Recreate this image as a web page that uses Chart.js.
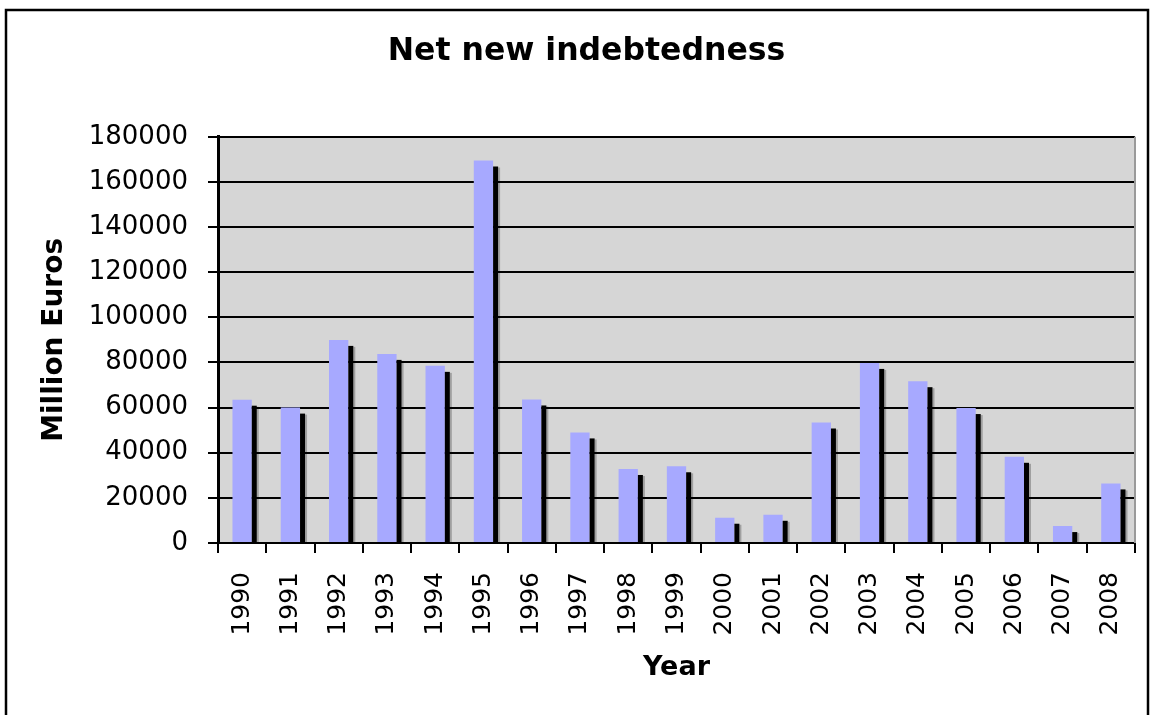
<!DOCTYPE html>
<html>
<head>
<meta charset="utf-8">
<title>Net new indebtedness</title>
<script src="https://cdn.jsdelivr.net/npm/chart.js@4"></script>
<style>
  html, body { margin: 0; padding: 0; background: #fff; }
  #wrap { position: relative; width: 1155px; height: 715px; }
</style>
</head>
<body>
<div id="wrap"><canvas id="chart" width="1155" height="715"></canvas></div>
<script>
const years = ['1990','1991','1992','1993','1994','1995','1996','1997','1998','1999',
               '2000','2001','2002','2003','2004','2005','2006','2007','2008'];
// net new borrowing, million euros
const netNewDebt = [63500, 60000, 90000, 83800, 78500, 169500, 63600, 49000, 32800, 34000,
                    11200, 12500, 53400, 79800, 71700, 59800, 38200, 7500, 26400];
const yTicks = { min: 0, max: 180000, step: 20000 };

const FONT = 'DejaVu Sans, Verdana, sans-serif';

// gray plot background, frame around the whole chart
const backdrop = {
  id: 'backdrop',
  beforeDraw(chart) {
    const { ctx, chartArea: a } = chart;
    ctx.save();
    ctx.fillStyle = '#fff';
    ctx.fillRect(0, 0, chart.width, chart.height);
    ctx.fillStyle = '#d6d6d6';
    ctx.fillRect(a.left, a.top, a.right - a.left, a.bottom - a.top);
    ctx.strokeStyle = '#000';
    ctx.lineWidth = 2.5;
    ctx.strokeRect(6, 10, 1142, 720);
    ctx.restore();
  },
  afterDraw(chart) {
    const { ctx, chartArea: a } = chart;
    ctx.save();
    ctx.strokeStyle = '#9a9a9a';
    ctx.lineWidth = 2;
    ctx.beginPath();
    ctx.moveTo(a.right, a.top);
    ctx.lineTo(a.right, a.bottom);
    ctx.stroke();
    ctx.restore();
  }
};

// dark drop shadow on the right side of every bar
const barShadow = {
  id: 'barShadow',
  afterDatasetsDraw(chart) {
    const { ctx } = chart;
    const meta = chart.getDatasetMeta(0);
    ctx.save();
    meta.data.forEach(bar => {
      const { x, y, base, width } = bar.getProps(['x', 'y', 'base', 'width'], true);
      const left = x + width / 2;
      const top = y + 6;
      if (base - top <= 0) return;
      ctx.fillStyle = 'rgba(0,0,0,0.25)';
      ctx.fillRect(left + 5, top + 1, 2, base - top - 1);
      ctx.fillStyle = '#000';
      ctx.fillRect(left, top, 5, base - top);
    });
    ctx.restore();
  }
};

new Chart(document.getElementById('chart'), {
  type: 'bar',
  data: {
    labels: years,
    datasets: [{
      data: netNewDebt,
      backgroundColor: '#a7a9ff',
      borderWidth: 0,
      categoryPercentage: 1.0,
      barPercentage: 0.4
    }]
  },
  options: {
    responsive: false,
    animation: false,
    layout: { padding: { left: 38, right: 20, top: 0, bottom: 0 } },
    plugins: {
      legend: { display: false },
      tooltip: { enabled: false },
      title: {
        display: true,
        text: 'Net new indebtedness',
        color: '#000',
        font: { family: FONT, size: 31.5, weight: 'bold' },
        padding: { top: 33, bottom: 66 }
      }
    },
    scales: {
      x: {
        grid: {
          offset: true,
          drawOnChartArea: false,
          drawTicks: true,
          tickLength: 10,
          color: '#000',
          lineWidth: 2
        },
        border: { color: '#000', width: 2 },
        ticks: {
          color: '#000',
          font: { family: FONT, size: 25 },
          minRotation: 90,
          maxRotation: 90,
          padding: 19,
          autoSkip: false
        },
        title: {
          display: true,
          text: 'Year',
          color: '#000',
          font: { family: FONT, size: 27, weight: 'bold' },
          padding: { top: 0, bottom: 31 }
        },
        afterFit(scale) {
          scale.height = 172;
          scale.paddingLeft = 0;
          scale.paddingRight = 0;
        }
      },
      y: {
        min: yTicks.min,
        max: yTicks.max,
        grid: {
          color: '#000',
          lineWidth: 2,
          drawTicks: true,
          tickLength: 10
        },
        border: { color: '#000', width: 3 },
        ticks: {
          stepSize: yTicks.step,
          color: '#000',
          font: { family: FONT, size: 26 },
          padding: 20,
          callback: v => String(v)
        },
        title: {
          display: true,
          text: 'Million Euros',
          color: '#000',
          font: { family: FONT, size: 28, weight: 'bold' },
          padding: { top: 0, bottom: 0 }
        },
        afterFit(scale) { scale.width = 180; }
      }
    }
  },
  plugins: [backdrop, barShadow]
});
</script>
</body>
</html>
